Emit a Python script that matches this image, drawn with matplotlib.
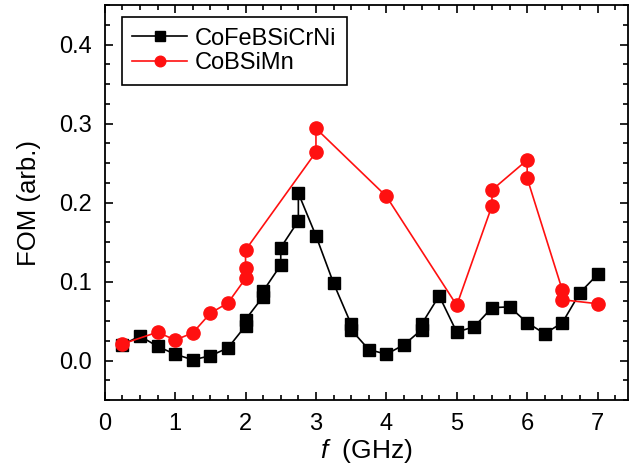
import matplotlib.pyplot as plt
from matplotlib.ticker import MultipleLocator

plt.rcParams['font.family'] = ['Liberation Sans', 'DejaVu Sans']
plt.rcParams['mathtext.fontset'] = 'custom'
plt.rcParams['mathtext.it'] = 'Liberation Sans:italic'

# CoFeBSiCrNi (black squares)
f_a = [0.25, 0.5, 0.75, 1.0, 1.25, 1.5, 1.75, 2.0, 2.0, 2.25, 2.25, 2.5, 2.5,
       2.75, 2.75, 3.0, 3.25, 3.5, 3.5, 3.75, 4.0, 4.25, 4.5, 4.5, 4.75, 5.0,
       5.25, 5.5, 5.75, 6.0, 6.25, 6.5, 6.75, 7.0]
fom_a = [0.020, 0.031, 0.018, 0.008, 0.001, 0.006, 0.016, 0.044, 0.052, 0.081,
         0.088, 0.121, 0.143, 0.177, 0.212, 0.158, 0.098, 0.046, 0.039, 0.014,
         0.008, 0.020, 0.039, 0.046, 0.082, 0.036, 0.043, 0.067, 0.068, 0.048,
         0.034, 0.048, 0.086, 0.109]

# CoBSiMn (red circles)
f_b = [0.25, 0.75, 1.0, 1.25, 1.5, 1.75, 2.0, 2.0, 2.0, 3.0, 3.0, 4.0, 5.0,
       5.5, 5.5, 6.0, 6.0, 6.5, 6.5, 7.0]
fom_b = [0.021, 0.036, 0.026, 0.035, 0.060, 0.073, 0.104, 0.117, 0.140, 0.264,
         0.294, 0.208, 0.070, 0.196, 0.216, 0.254, 0.231, 0.089, 0.077, 0.072]

fig = plt.figure(figsize=(6.31, 4.74), dpi=100)
ax = fig.add_axes([0.166, 0.156, 0.829, 0.833])

ax.plot(f_a, fom_a, color='black', marker='s', markersize=8.5, lw=1.2,
        label='CoFeBSiCrNi')
ax.plot(f_b, fom_b, color='#ff1010', marker='o', markersize=9.5, lw=1.2,
        label='CoBSiMn')

ax.set_xlim(0, 7.43)
ax.set_ylim(-0.05, 0.45)
ax.xaxis.set_major_locator(MultipleLocator(1))
ax.xaxis.set_minor_locator(MultipleLocator(0.25))
ax.yaxis.set_major_locator(MultipleLocator(0.1))
ax.yaxis.set_minor_locator(MultipleLocator(0.025))
ax.tick_params(which='both', direction='in', top=True, right=True,
               labelsize=17, width=1.2)
ax.tick_params(which='major', length=6, pad=9)
ax.tick_params(which='minor', length=3.5)
for s in ax.spines.values():
    s.set_linewidth(1.3)

ax.set_xlabel('$\\it{f}$  (GHz)', fontsize=19, labelpad=2)
ax.set_ylabel('FOM (arb.)', fontsize=18.5, labelpad=13)

leg = ax.legend(loc='upper left', fontsize=17, fancybox=False,
                edgecolor='black', framealpha=1, borderpad=0.45,
                handlelength=2.3, handletextpad=0.35, labelspacing=0.1,
                markerscale=0.8, borderaxespad=0,
                bbox_to_anchor=(0.0325, 0.97))
leg.get_frame().set_linewidth(1.2)
# widen the frame a bit to the right, as in the original
fr = leg.get_frame()
fig.canvas.draw()
fr.set_width(fr.get_width() + 14)

fig.savefig('out.png', dpi=100)
